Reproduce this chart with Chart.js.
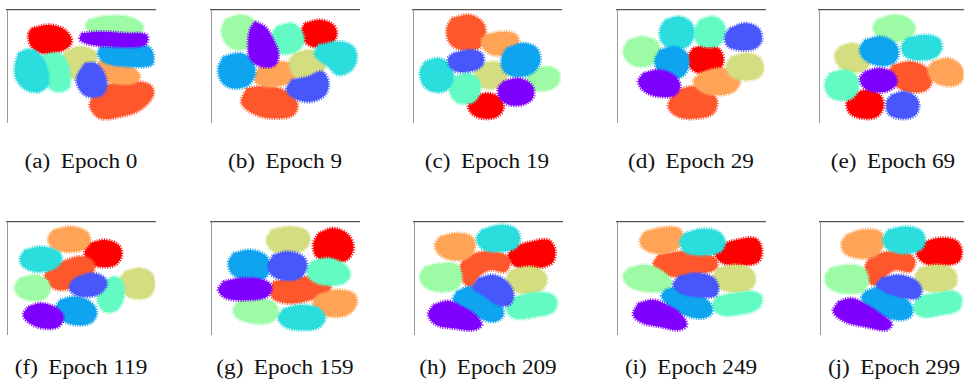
<!DOCTYPE html>
<html>
<head>
<meta charset="utf-8">
<script src="https://cdn.jsdelivr.net/npm/chart.js@4.4.1/dist/chart.umd.min.js"></script>
<style>
  html, body { margin: 0; padding: 0; background: #fff; }
  body { width: 964px; height: 384px; position: relative; overflow: hidden; }
  .panel { position: absolute; }
  .cap { position: absolute; width: 200px; text-align: center; font-size: 20px; line-height: 24px; color: #111; white-space: nowrap; transform: scaleX(1.16); transform-origin: 50% 50%; }
  .cap .tag { margin-right: 9px; }
</style>
</head>
<body>
<script>
// Epochs at which the embedding was captured
const epochs = [0, 9, 19, 29, 69, 119, 159, 209, 249, 299];
const subLabels = ['a', 'b', 'c', 'd', 'e', 'f', 'g', 'h', 'i', 'j'];

// One colour per class (rainbow colormap, class 0 .. 9)
const classColors = ['#8000ff', '#4757fb', '#0ea4f0', '#2bdddd', '#63fbc3',
                     '#9cfba4', '#d4dd80', '#ffa457', '#ff572c', '#ff0000'];

// Cluster outlines of each class in the 2-D embedding, flat [x, y, x, y, ...]
const epoch0 = [
  [245,100, 300,95, 380,100, 440,105, 435,135, 360,140, 280,135, 240,120],
  [255,190, 285,190, 310,215, 320,255, 305,285, 265,290, 240,270, 230,235],
  [300,140, 380,138, 445,140, 460,165, 455,195, 400,200, 320,190, 295,165],
  [55,160, 85,148, 115,160, 140,200, 145,250, 120,275, 80,270, 50,240, 45,200],
  [130,165, 175,160, 200,185, 210,230, 205,265, 170,275, 140,255, 120,215, 115,185],
  [265,60, 320,48, 390,52, 428,75, 420,100, 340,105, 275,100, 258,80],
  [195,155, 240,140, 285,155, 290,180, 265,210, 235,240, 205,225, 185,190],
  [300,180, 350,185, 400,205, 420,230, 400,250, 340,250, 310,235, 290,210],
  [280,285, 320,255, 400,245, 450,255, 460,285, 420,330, 360,350, 300,355, 270,320],
  [95,85, 150,75, 195,90, 215,125, 190,150, 130,160, 95,140, 85,105]
];
const epoch9 = [
  [165,65, 195,80, 215,110, 235,160, 225,195, 185,200, 150,175, 145,130, 150,90],
  [275,240, 325,230, 365,215, 385,245, 375,285, 330,305, 285,295, 260,270],
  [70,170, 120,160, 155,180, 165,220, 145,255, 100,265, 65,245, 55,205],
  [355,135, 420,125, 460,140, 470,175, 455,210, 415,225, 385,200, 345,165],
  [230,80, 275,70, 305,95, 310,130, 285,155, 240,160, 215,130, 220,95],
  [75,60, 120,45, 160,60, 170,100, 150,140, 105,148, 75,125, 65,90],
  [285,160, 330,150, 365,165, 375,200, 350,230, 300,235, 275,215, 270,180],
  [180,200, 240,185, 280,195, 290,225, 265,250, 210,260, 170,250, 165,225],
  [140,265, 200,258, 260,275, 292,310, 280,345, 230,355, 170,345, 125,310],
  [315,70, 360,60, 400,75, 410,105, 390,135, 340,140, 310,120, 305,90]
];
const epoch19 = [
  [310,245, 355,235, 395,255, 400,290, 375,312, 330,315, 300,295, 295,265],
  [160,160, 210,150, 245,160, 250,190, 225,210, 175,215, 150,200, 145,175],
  [320,145, 370,130, 410,145, 420,185, 395,220, 345,230, 310,210, 305,175],
  [75,185, 115,175, 150,195, 160,235, 140,270, 100,275, 70,255, 60,215],
  [165,230, 205,220, 235,240, 240,275, 220,305, 180,310, 155,290, 150,255],
  [390,215, 440,200, 475,215, 475,250, 445,270, 400,270, 378,250],
  [240,195, 285,185, 315,205, 320,240, 295,262, 255,265, 230,245, 225,215],
  [255,105, 310,95, 350,105, 355,135, 330,160, 280,165, 250,145, 245,120],
  [155,55, 210,45, 250,70, 255,110, 235,145, 185,150, 150,130, 140,90],
  [220,290, 265,280, 300,295, 310,325, 290,350, 245,355, 215,340, 205,315]
];
const epoch29 = [
  [115,220, 160,210, 205,225, 225,255, 210,285, 165,290, 120,275, 100,245],
  [375,85, 420,70, 460,85, 470,120, 450,145, 405,150, 368,138, 360,110],
  [165,150, 210,140, 245,160, 250,200, 230,230, 190,235, 160,215, 150,180],
  [180,60, 225,50, 260,70, 265,110, 245,140, 200,145, 170,125, 165,90],
  [285,60, 325,50, 355,70, 360,105, 340,135, 300,140, 275,125, 270,90],
  [70,120, 115,110, 155,125, 165,160, 145,190, 105,200, 70,185, 55,155],
  [380,170, 430,160, 465,175, 475,210, 455,235, 410,240, 375,225, 365,195],
  [285,220, 340,205, 390,215, 405,245, 385,275, 335,285, 290,275, 265,245],
  [210,275, 255,260, 305,270, 335,300, 325,340, 275,355, 220,350, 190,320],
  [265,145, 310,135, 345,150, 355,185, 335,215, 290,220, 258,205, 250,170]
];
const epoch69 = [
  [180,215, 225,205, 265,220, 275,250, 250,272, 205,275, 175,260, 165,235],
  [260,285, 300,275, 335,295, 340,330, 320,352, 280,355, 250,340, 245,305],
  [180,120, 230,110, 270,130, 280,165, 260,192, 215,195, 175,175, 165,145],
  [305,115, 360,105, 400,115, 410,145, 390,172, 340,180, 300,168, 290,140],
  [75,220, 120,210, 155,230, 160,265, 140,295, 100,300, 70,285, 60,250],
  [215,60, 265,45, 310,55, 330,85, 310,115, 260,125, 220,110, 205,85],
  [105,140, 145,130, 180,150, 195,185, 175,212, 130,215, 100,195, 90,165],
  [385,185, 430,175, 465,195, 475,230, 455,255, 410,255, 378,235, 370,205],
  [265,195, 320,185, 365,205, 380,245, 360,272, 310,275, 270,255, 250,220],
  [140,285, 185,270, 225,285, 235,320, 215,350, 170,355, 135,340, 125,310]
];
const epoch119 = [
  [85,275, 125,265, 170,280, 190,305, 175,335, 130,340, 90,325, 70,300],
  [225,190, 270,175, 310,185, 320,210, 295,238, 250,245, 215,232, 210,210],
  [180,255, 225,245, 270,260, 290,290, 275,322, 230,330, 185,315, 165,285],
  [75,105, 125,95, 175,110, 185,135, 160,162, 110,170, 70,155, 60,130],
  [310,200, 345,185, 368,205, 370,250, 350,285, 315,290, 295,265, 295,225],
  [60,190, 105,180, 140,195, 150,225, 130,252, 85,255, 55,240, 45,215],
  [375,170, 420,160, 455,175, 465,210, 445,245, 400,250, 368,230, 360,195],
  [160,45, 215,35, 260,50, 270,80, 245,105, 195,110, 155,95, 145,70],
  [150,160, 200,135, 250,125, 282,145, 275,180, 235,210, 180,225, 140,205, 135,180],
  [270,85, 315,75, 355,90, 365,120, 345,150, 300,155, 265,140, 255,110]
];
const epoch159 = [
  [70,200, 125,190, 190,195, 215,215, 200,245, 140,255, 80,250, 55,225],
  [220,120, 265,110, 310,125, 320,155, 300,188, 255,195, 215,180, 205,150],
  [100,115, 150,105, 195,120, 210,155, 195,188, 145,195, 100,180, 85,145],
  [250,282, 300,270, 355,280, 375,310, 355,338, 300,345, 255,335, 235,310],
  [335,140, 385,130, 435,150, 450,180, 430,205, 380,210, 335,195, 320,165],
  [115,260, 170,250, 220,262, 235,290, 215,320, 165,325, 115,310, 100,285],
  [215,45, 265,35, 315,45, 330,75, 310,105, 255,115, 215,105, 200,75],
  [355,240, 410,225, 460,235, 470,265, 445,298, 395,305, 350,290, 340,260],
  [220,200, 280,190, 340,185, 385,200, 390,225, 345,250, 280,265, 225,255, 210,230],
  [355,55, 400,40, 445,60, 460,100, 440,135, 390,140, 350,125, 340,90]
];
const epoch209 = [
  [100,270, 145,258, 185,275, 225,300, 245,330, 220,345, 160,340, 110,330, 85,300],
  [235,190, 280,180, 320,200, 340,235, 330,268, 295,270, 250,240, 220,220],
  [170,230, 210,215, 260,230, 300,265, 310,300, 285,320, 240,310, 190,280, 160,255],
  [245,45, 300,30, 345,40, 360,70, 345,100, 290,110, 245,100, 230,70],
  [335,250, 390,235, 445,235, 470,255, 460,290, 405,305, 345,310, 320,285],
  [75,155, 130,145, 170,150, 185,185, 170,220, 120,230, 75,215, 60,185],
  [335,165, 390,155, 430,170, 440,200, 420,228, 370,235, 330,220, 320,190],
  [120,65, 170,55, 215,65, 225,95, 205,128, 160,135, 120,120, 105,90],
  [195,125, 250,110, 305,115, 330,140, 315,170, 270,165, 235,185, 215,215, 190,200, 180,160],
  [340,95, 395,80, 445,75, 465,105, 455,145, 400,160, 350,155, 325,125]
];
const epoch249 = [
  [100,265, 145,255, 185,270, 225,295, 245,330, 220,345, 165,335, 115,325, 85,300],
  [220,185, 270,175, 320,185, 340,215, 330,243, 280,245, 230,235, 205,210],
  [180,225, 225,215, 275,235, 315,265, 320,295, 290,310, 240,300, 195,275, 170,245],
  [240,55, 290,42, 340,50, 360,80, 345,110, 290,120, 240,110, 225,80],
  [335,245, 390,235, 445,230, 470,245, 460,280, 405,298, 350,300, 322,275],
  [70,160, 120,150, 165,165, 200,200, 185,225, 130,230, 75,215, 55,185],
  [340,160, 395,150, 440,165, 450,200, 430,225, 380,230, 335,215, 325,185],
  [120,50, 170,38, 220,40, 235,70, 210,105, 155,115, 115,100, 105,75],
  [160,120, 220,110, 290,115, 330,130, 335,160, 290,175, 220,185, 165,175, 145,150],
  [345,90, 395,75, 450,70, 470,100, 460,140, 410,150, 355,145, 330,115]
];
const epoch299 = [
  [100,260, 140,250, 185,270, 230,300, 260,325, 245,345, 180,335, 120,320, 85,290],
  [230,190, 280,180, 330,195, 350,225, 335,250, 285,245, 240,230, 215,210],
  [180,230, 225,215, 275,235, 315,265, 320,300, 290,315, 240,305, 195,280, 170,250],
  [250,45, 300,35, 345,45, 360,75, 345,105, 290,115, 245,100, 235,70],
  [340,245, 395,235, 450,230, 470,250, 460,285, 405,300, 350,305, 325,280],
  [75,160, 130,150, 175,160, 190,195, 175,228, 120,235, 75,220, 60,190],
  [345,160, 400,150, 445,165, 455,200, 435,225, 385,230, 340,215, 330,185],
  [125,60, 170,45, 225,50, 235,85, 215,120, 165,130, 120,115, 110,85],
  [195,125, 250,110, 310,115, 330,140, 315,170, 270,165, 240,185, 215,210, 190,200, 180,160],
  [350,85, 400,70, 450,75, 470,105, 460,140, 410,150, 360,145, 335,115]
];

const embeddings = [epoch0, epoch9, epoch19, epoch29, epoch69,
                    epoch119, epoch159, epoch209, epoch249, epoch299];

// Page placement of each small plot and its visible embedding window
const panelLeft = [7, 211, 413, 617, 819, 7, 211, 414, 617, 820];
const panelTop = [10, 10, 10, 10, 10, 222, 222, 222, 222, 222];
const winX = [21, 33, 39, 36, 42, 21, 33, 42, 36, 45];
const winY = [30, 30, 30, 30, 30, 21, 21, 21, 21, 21];
const PW = 148, PH = 112, PAD = 2;

// Pick the first installed serif face for the captions
function pickSerif() {
  const ctx = document.createElement('canvas').getContext('2d');
  const probe = 'Epoch 0123456789 (abcdefghij) WMil';
  ctx.font = '40px monospace';
  const base = ctx.measureText(probe).width;
  const cands = ['Liberation Serif', 'Times New Roman', 'Tinos', 'DejaVu Serif', 'Noto Serif', 'FreeSerif', 'Nimbus Roman', 'Times'];
  for (const f of cands) {
    ctx.font = '40px "' + f + '", monospace';
    if (Math.abs(ctx.measureText(probe).width - base) > 0.5) return '"' + f + '", serif';
  }
  return 'serif';
}
const captionFont = pickSerif();

function toPoints(flat) {
  const pts = [];
  for (let k = 0; k < flat.length; k += 2) pts.push({ x: flat[k], y: flat[k + 1] });
  pts.push({ x: flat[0], y: flat[1] });
  return pts;
}

function hexToRgba(hex, a) {
  const n = parseInt(hex.slice(1), 16);
  return 'rgba(' + ((n >> 16) & 255) + ',' + ((n >> 8) & 255) + ',' + (n & 255) + ',' + a + ')';
}

epochs.forEach((ep, i) => {
  const wrap = document.createElement('div');
  wrap.className = 'panel';
  wrap.style.left = (panelLeft[i] - PAD) + 'px';
  wrap.style.top = (panelTop[i] - PAD) + 'px';
  const cv = document.createElement('canvas');
  cv.width = PW + 2 * PAD;
  cv.height = PH + 2 * PAD;
  cv.style.width = cv.width + 'px';
  cv.style.height = cv.height + 'px';
  wrap.appendChild(cv);
  document.body.appendChild(wrap);

  const datasets = classColors.map((col, c) => ({
    label: 'class ' + c,
    data: toPoints(embeddings[i][c]),
    showLine: true,
    fill: 'shape',
    backgroundColor: col,
    borderColor: hexToRgba(col, 0.85),
    borderWidth: 3.5,
    borderDash: [1.2, 1.2],
    tension: 0.35,
    pointRadius: 0,
    pointHoverRadius: 0
  }));

  new Chart(cv, {
    type: 'scatter',
    data: { datasets },
    options: {
      responsive: false,
      animation: false,
      events: [],
      layout: { padding: PAD },
      plugins: { legend: { display: false }, tooltip: { enabled: false } },
      scales: {
        x: {
          type: 'linear', position: 'top',
          min: winX[i], max: winX[i] + PW * 3,
          ticks: { display: false },
          grid: { display: false, drawTicks: false },
          border: { display: true, color: '#555', width: 1.2 }
        },
        y: {
          type: 'linear', position: 'left', reverse: true,
          min: winY[i], max: winY[i] + PH * 3,
          ticks: { display: false },
          grid: { display: false, drawTicks: false },
          border: { display: true, color: '#999', width: 1 }
        }
      }
    }
  });

  const cap = document.createElement('div');
  cap.className = 'cap';
  cap.style.fontFamily = captionFont;
  cap.style.left = (panelLeft[i] + PW / 2 - 100) + 'px';
  cap.style.top = (i < 5 ? 149 : 355) + 'px';
  cap.innerHTML = '<span class="tag">(' + subLabels[i] + ')</span>Epoch ' + ep;
  document.body.appendChild(cap);
});
</script>
</body>
</html>
